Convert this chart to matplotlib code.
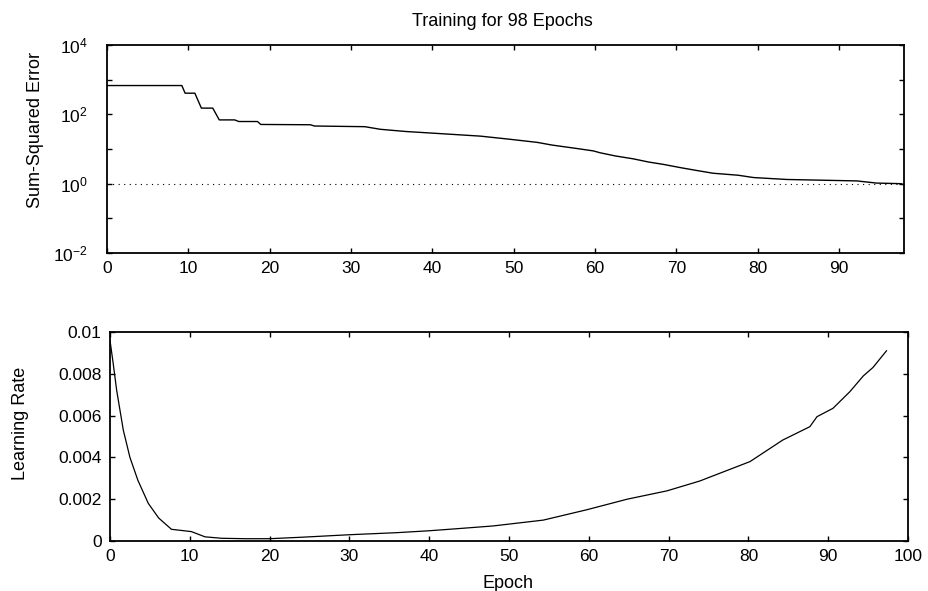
import math
import matplotlib
matplotlib.use("Agg")
import matplotlib.pyplot as plt
from matplotlib.ticker import FixedLocator, FuncFormatter

plt.rcParams['font.family'] = ['Liberation Sans', 'DejaVu Sans']
plt.rcParams['mathtext.fontset'] = 'custom'
plt.rcParams['mathtext.rm'] = 'Liberation Sans'
plt.rcParams['mathtext.default'] = 'regular'

# Sum-squared error per epoch
sse_epoch = [0, 9.2, 9.6, 10.8, 11.6, 13.0, 13.8, 15.7, 16.2, 18.5, 18.9, 25, 25.5, 31.7,
             33.6, 36.7, 41.8, 45.9, 49.6, 52.9, 54.7, 57.8, 59.8, 60.6, 62.5, 64.7,
             66.6, 68.4, 70.5, 72.5, 74.5, 77.6, 79.5, 83.6, 92.2, 94.6, 97.6, 98]
sse_value = [676, 676, 407, 407, 151, 151, 69, 69, 62, 62, 51, 50, 46, 44,
             37, 32, 27, 23.5, 19, 15.5, 13, 10.3, 8.8, 7.8, 6.3, 5.2,
             4.2, 3.6, 2.9, 2.4, 2.0, 1.75, 1.5, 1.32, 1.2, 1.04, 1.0, 0.93]
goal = 1.0
n_epochs = 98

# Learning rate per epoch
lr_epoch = [0, 0.4, 0.84, 1.67, 2.5, 3.5, 4.8, 6.1, 7.7, 10.2, 11.9, 14, 17, 20, 24,
            30, 36, 40, 43.9, 48, 54.3, 59.8, 64.8, 69.8, 73.9, 80.2, 84.3, 87.7,
            88.6, 90.6, 92.7, 94.4, 95.6, 97.3]
lr_value = [0.0096, 0.0085, 0.0072, 0.0053, 0.0040, 0.0029, 0.0018, 0.0011, 0.00056,
            0.00045, 0.00020, 0.00013, 0.00011, 0.00011, 0.00018,
            0.00030, 0.00040, 0.00049, 0.00060, 0.00072, 0.0010, 0.0015, 0.0020, 0.0024,
            0.00287, 0.0038, 0.00483, 0.00547, 0.00595, 0.00635, 0.00714, 0.0079,
            0.0083, 0.0091]

fig = plt.figure(figsize=(9.29, 5.91), dpi=100)
ax1 = fig.add_axes([0.1152, 0.5719, 0.858, 0.352])
ax2 = fig.add_axes([0.1184, 0.0846, 0.859, 0.3536])

fs_tick = 12.5
fs_lab = 13
for ax in (ax1, ax2):
    ax.tick_params(direction='in', top=True, right=True, labelsize=fs_tick,
                   length=3.5, width=1, pad=6)
    for s in ax.spines.values():
        s.set_linewidth(1.3)
ax1.tick_params(axis='y', pad=14)

# Top panel
ax1.plot(sse_epoch, sse_value, color='black', lw=1.0)
ax1.axhline(goal, color='black', lw=0.8, ls=(0, (1, 4)))
ax1.set_yscale('log')
ax1.set_xlim(0, n_epochs)
ax1.set_ylim(1e-2, 1e4)
ax1.yaxis.set_major_locator(FixedLocator([10.0**k for k in range(-2, 5)]))
ax1.yaxis.set_minor_locator(FixedLocator([]))
def logfmt(v, pos):
    k = int(round(math.log10(v)))
    return r'$10^{%d}$' % k if k % 2 == 0 else ''
ax1.yaxis.set_major_formatter(FuncFormatter(logfmt))
ax1.set_xticks(range(0, 100, 10))
ax1.set_ylabel('Sum-Squared Error', fontsize=fs_lab)
ax1.yaxis.set_label_coords(-0.079, 0.59)
fig.text(502 / 929, 1 - 22 / 591, 'Training for 98 Epochs', fontsize=fs_lab,
         ha='center', va='center')

# Bottom panel
ax2.plot(lr_epoch, lr_value, color='black', lw=0.9)
ax2.set_xlim(0, 100)
ax2.set_ylim(0, 0.01)
ax2.set_xticks(range(0, 101, 10))
ax2.set_yticks([0, 0.002, 0.004, 0.006, 0.008, 0.01])
ax2.set_yticklabels(['0', '0.002', '0.004', '0.006', '0.008', '0.01'])
ax2.set_ylabel('Learning Rate', fontsize=fs_lab)
ax2.yaxis.set_label_coords(-0.1015, 0.565)
fig.text(508 / 929, 1 - 583 / 591, 'Epoch', fontsize=fs_lab, ha='center', va='center')

fig.savefig('out.png', dpi=100, facecolor='white')
